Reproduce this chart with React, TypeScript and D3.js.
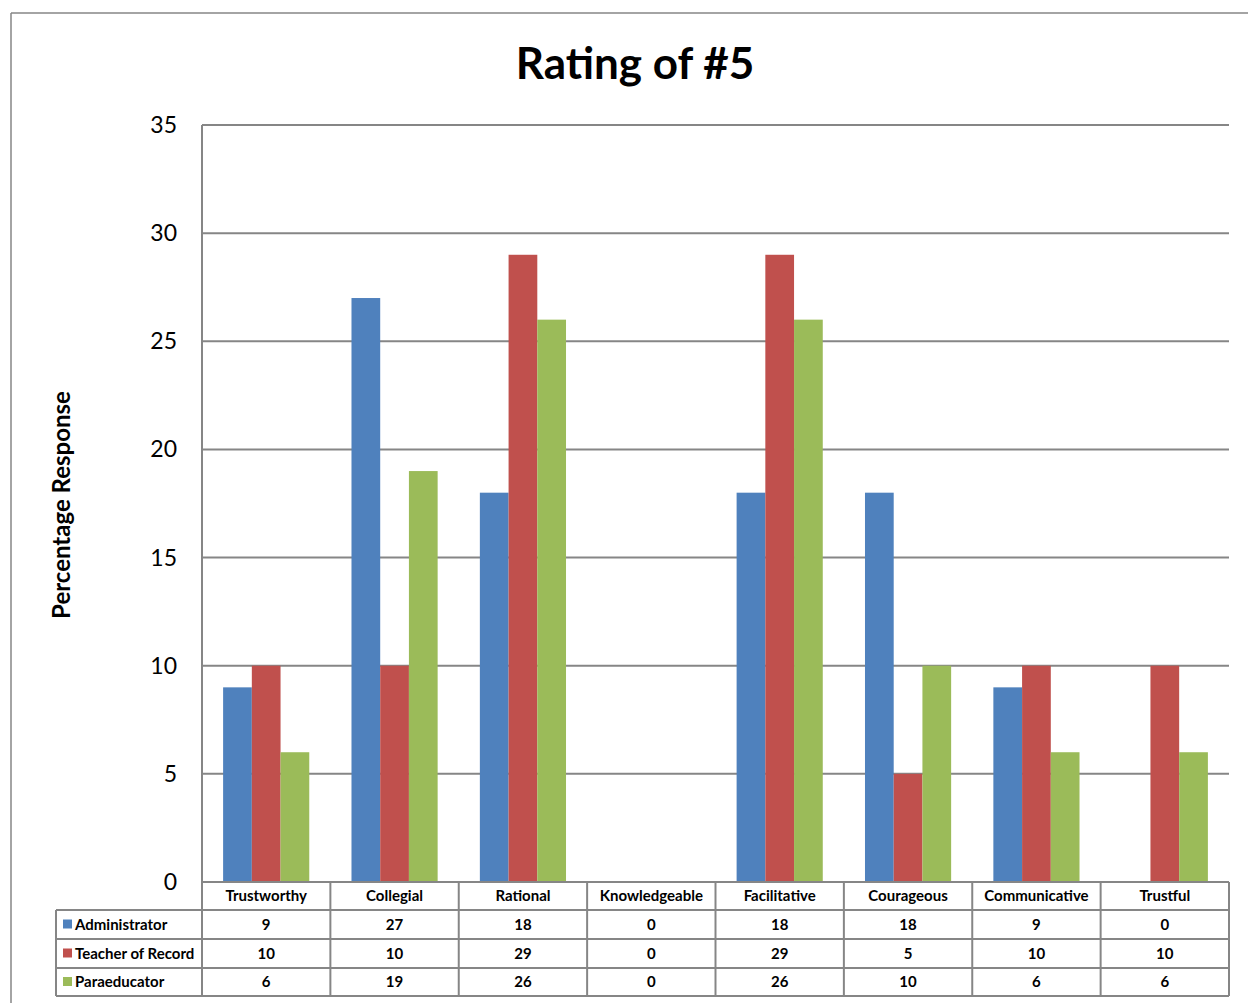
import React from "react";
import * as d3 from "d3";

const categories = ["Trustworthy", "Collegial", "Rational", "Knowledgeable", "Facilitative", "Courageous", "Communicative", "Trustful"];
const seriesNames = ["Administrator", "Teacher of Record", "Paraeducator"];
const administrator = [9, 27, 18, 0, 18, 18, 9, 0];
const teacherOfRecord = [10, 10, 29, 0, 29, 5, 10, 10];
const paraeducator = [6, 19, 26, 0, 26, 10, 6, 6];
const yTicks = [0, 5, 10, 15, 20, 25, 30, 35];

const colors = ["#4F81BD", "#C0504D", "#9BBB59"];
const FONT = "Lato, 'Open Sans', sans-serif";

export default function App() {
  const W = 1248, H = 1003;
  const left = 202, right = 1229, top = 125, bottom = 882;
  const seriesValues = [administrator, teacherOfRecord, paraeducator];

  const x = d3.scaleBand<string>().domain(categories).range([left, right]).paddingInner(0).paddingOuter(0);
  const inner = d3.scaleBand<string>().domain(seriesNames).range([0, x.bandwidth()]).paddingInner(0).paddingOuter(0.735);
  const y = d3.scaleLinear().domain([0, 35]).range([bottom, top]);

  const rowYs = [882, 910, 939, 968, 996];
  const legendLeft = 56;
  const grid = "#868686";

  return (
    <svg width={W} height={H} style={{ position: "absolute", left: 0, top: 0, background: "#fff" }} fontFamily={FONT}>
      <rect x={0} y={0} width={W} height={H} fill="#fff" />
      {/* outer border */}
      <line x1={11} y1={13} x2={W} y2={13} stroke={grid} strokeWidth={1.5} />
      <line x1={11} y1={13} x2={11} y2={H} stroke={grid} strokeWidth={1.5} />

      <text x={635} y={79} textAnchor="middle" fontSize={44} fontWeight={700} fill="#000">Rating of #5</text>

      {/* gridlines */}
      {yTicks.map((t) => (
        <g key={t}>
          {t > 0 && <line x1={left} x2={right} y1={y(t)} y2={y(t)} stroke={grid} strokeWidth={2} />}
          <text x={177} y={y(t)} dy="0.35em" textAnchor="end" fontSize={23} fill="#000">{t}</text>
        </g>
      ))}

      <text transform={`translate(70,${505}) rotate(-90)`} textAnchor="middle" fontSize={24} fontWeight={700} fill="#000">Percentage Response</text>

      {/* bars */}
      {seriesValues.map((vals, si) =>
        vals.map((v, ci) => (
          <rect
            key={`${si}-${ci}`}
            x={(x(categories[ci]) as number) + (inner(seriesNames[si]) as number)}
            y={y(v)}
            width={inner.bandwidth()}
            height={bottom - y(v)}
            fill={colors[si]}
          />
        ))
      )}

      {/* table */}
      <g stroke={grid} strokeWidth={2}>
        <line x1={left} x2={right} y1={rowYs[0]} y2={rowYs[0]} />
        {rowYs.slice(1).map((ry) => (
          <line key={ry} x1={legendLeft} x2={right} y1={ry} y2={ry} />
        ))}
        <line x1={left} x2={left} y1={top} y2={rowYs[4]} />
        <line x1={legendLeft} x2={legendLeft} y1={rowYs[1]} y2={rowYs[4]} />
        {categories.map((c) => (
          <line key={c} x1={(x(c) as number) + x.bandwidth()} x2={(x(c) as number) + x.bandwidth()} y1={rowYs[0]} y2={rowYs[4]} />
        ))}
      </g>

      {categories.map((c) => (
        <text key={c} x={(x(c) as number) + x.bandwidth() / 2} y={(rowYs[0] + rowYs[1]) / 2} dy="0.35em" textAnchor="middle" fontSize={15} fontWeight={700} fill="#000">{c}</text>
      ))}

      {seriesNames.map((s, si) => {
        const cy = (rowYs[si + 1] + rowYs[si + 2]) / 2;
        return (
          <g key={s}>
            <rect x={63} y={cy - 5} width={9} height={9} fill={colors[si]} />
            <text x={75} y={cy} dy="0.35em" fontSize={15} fontWeight={700} fill="#000">{s}</text>
            {seriesValues[si].map((v, ci) => (
              <text key={ci} x={(x(categories[ci]) as number) + x.bandwidth() / 2} y={cy} dy="0.35em" textAnchor="middle" fontSize={15} fontWeight={700} fill="#000">{v}</text>
            ))}
          </g>
        );
      })}
    </svg>
  );
}
